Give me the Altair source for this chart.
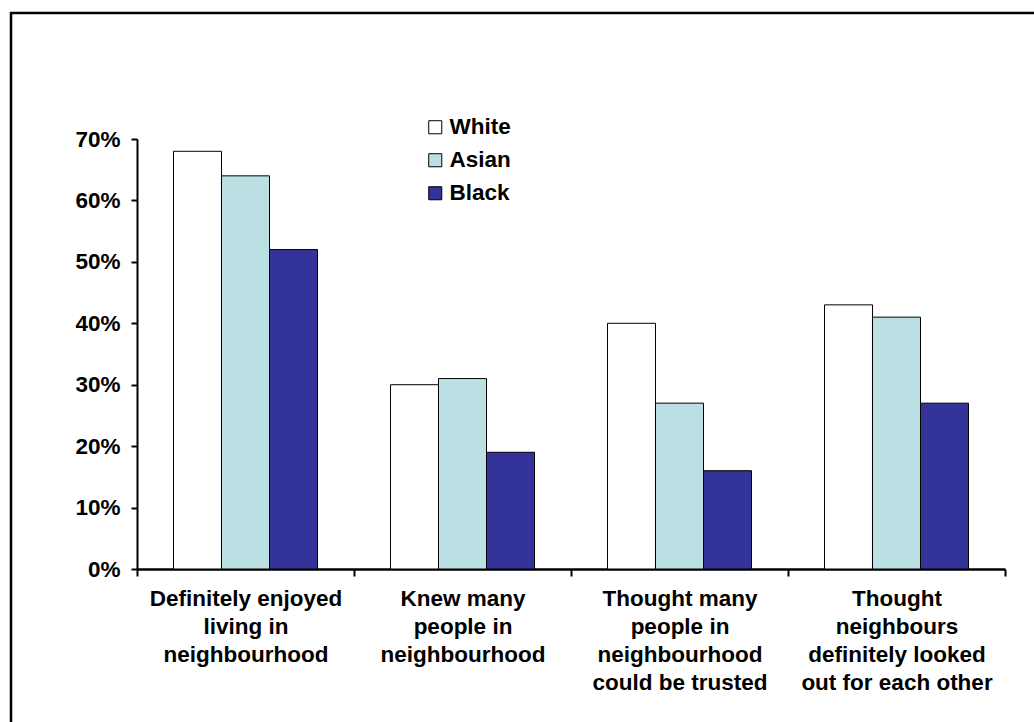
import altair as alt
import pandas as pd

categories = [
    "Definitely enjoyed\nliving in\nneighbourhood",
    "Knew many\npeople in\nneighbourhood",
    "Thought many\npeople in\nneighbourhood\ncould be trusted",
    "Thought\nneighbours\ndefinitely looked\nout for each other",
]
groups = ["White", "Asian", "Black"]
white = [68, 30, 40, 43]
asian = [64, 31, 27, 41]
black = [52, 19, 16, 27]
colors = ["#FFFFFF", "#BBE0E3", "#333399"]

rows = []
for i, c in enumerate(categories):
    for g, vals in zip(groups, [white, asian, black]):
        rows.append({"category": c, "group": g, "value": vals[i] / 100})
df = pd.DataFrame(rows)

FONT = "Liberation Sans"
FS = 22.5
W, H = 868, 430
PL, PT = 137, 139

bars = alt.Chart(df).mark_bar(stroke="black", strokeWidth=1).encode(
    x=alt.X(
        "category:N",
        sort=categories,
        scale=alt.Scale(paddingInner=0, paddingOuter=0),
        axis=alt.Axis(
            title=None,
            labelAngle=0,
            labelExpr="split(datum.label, '\\n')",
            labelFont=FONT,
            labelFontSize=FS,
            labelFontWeight="bold",
            labelColor="black",
            labelLineHeight=28,
            labelPadding=11,
            labelBaseline="top",
            labelLimit=400,
            tickBand="extent",
            tickSize=7,
            tickWidth=2,
            tickColor="black",
            domainColor="black",
            domainWidth=2.5,
            grid=False,
        ),
    ),
    xOffset=alt.XOffset("group:N", sort=groups,
                        scale=alt.Scale(paddingInner=0, paddingOuter=0.76)),
    y=alt.Y(
        "value:Q",
        scale=alt.Scale(domain=[0, 0.7], nice=False),
        axis=alt.Axis(
            title=None,
            format=".0%",
            values=[0, 0.1, 0.2, 0.3, 0.4, 0.5, 0.6, 0.7],
            labelFont=FONT,
            labelFontSize=FS,
            labelFontWeight="bold",
            labelColor="black",
            labelPadding=11,
            tickSize=6,
            tickWidth=2,
            tickColor="black",
            domainColor="black",
            domainWidth=2,
            grid=False,
        ),
    ),
    fill=alt.Fill(
        "group:N",
        sort=groups,
        scale=alt.Scale(domain=groups, range=colors),
        legend=alt.Legend(
            title=None,
            orient="none",
            legendX=287,
            legendY=-23,
            symbolType="square",
            symbolSize=170,
            symbolStrokeColor="black",
            symbolStrokeWidth=1,
            labelFont=FONT,
            labelFontSize=FS,
            labelFontWeight="bold",
            labelColor="black",
            labelOffset=3,
            rowPadding=10,
        ),
    ),
)

frame = alt.Chart(pd.DataFrame({"a": [0]})).mark_rect(
    fill=None, stroke="black", strokeWidth=2.5, clip=False
).encode(
    x=alt.value(11 - PL),
    x2=alt.value(1040 - PL),
    y=alt.value(13 - PT),
    y2=alt.value(730 - PT),
)

chart = alt.layer(frame, bars).properties(
    width=W,
    height=H,
    autosize=alt.AutoSizeParams(type="none"),
    padding={"left": PL, "top": PT, "right": 1034 - PL - W, "bottom": 722 - PT - H},
    background="white",
).configure_view(stroke=None)

chart.save("out.html", embed_options={"renderer": "svg", "actions": False})
